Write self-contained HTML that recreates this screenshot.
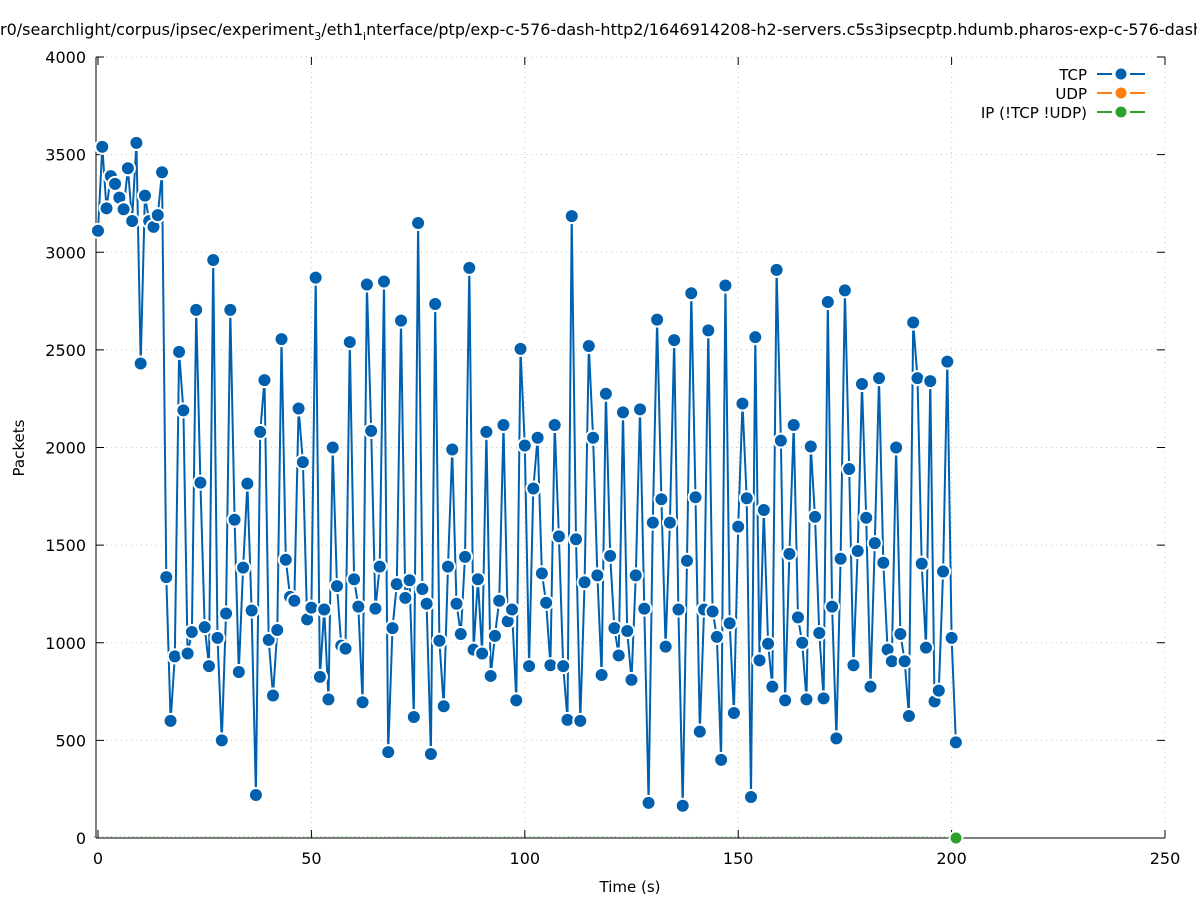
<!DOCTYPE html>
<html><head><meta charset="utf-8"><style>body{margin:0;background:#fff}svg{display:block;font-family:"DejaVu Sans","Liberation Sans",sans-serif}</style></head>
<body>
<svg id="s" width="1197" height="900" xmlns="http://www.w3.org/2000/svg">
<rect width="1197" height="900" fill="#fff"/>
<g id="grid" stroke="#c8c8c8" stroke-width="1" stroke-dasharray="1,4"></g>
<g id="axes"></g>
<text x="0" y="35" font-size="16" fill="#000">r0/searchlight/corpus/ipsec/experiment<tspan font-size="11" dy="5">3</tspan><tspan dy="-5">/eth1</tspan><tspan font-size="11" dy="5">i</tspan><tspan dy="-5">nterface/ptp/exp-c-576-dash-http2/1646914208-h2-servers.c5s3ipsecptp.hdumb.pharos-exp-c-576-dash-http2</tspan></text>
<text x="630" y="892" font-size="15" text-anchor="middle">Time (s)</text>
<text transform="translate(24,448) rotate(-90)" font-size="15" text-anchor="middle">Packets</text>
<g font-size="15" text-anchor="end">
<text x="1087" y="80">TCP</text><text x="1087" y="99">UDP</text><text x="1087" y="118">IP (!TCP  !UDP)</text>
</g>
<g stroke-width="2">
<path d="M1097 74h15M1130 74h15" stroke="#0060ad"/><circle cx="1121" cy="74" r="6.5" fill="#0060ad" stroke="#fff"/>
<path d="M1097 93h15M1130 93h15" stroke="#ff7f0e"/><circle cx="1121" cy="93" r="6.5" fill="#ff7f0e" stroke="#fff"/>
<path d="M1097 112h15M1130 112h15" stroke="#2ca02c"/><circle cx="1121" cy="112" r="6.5" fill="#2ca02c" stroke="#fff"/>
</g>
<g id="data"></g>
</svg>
<script>
var v=[3110,3540,3225,3390,3350,3280,3220,3430,3160,3560,2430,3290,3160,3130,3190,3410,1336,600,930,2490,2190,945,1055,2705,1820,1080,880,2960,1025,500,1150,2705,1630,850,1385,1815,1165,220,2080,2345,1015,730,1065,2555,1425,1235,1215,2200,1925,1120,1180,2870,825,1170,710,2000,1290,985,970,2540,1325,1185,695,2835,2085,1175,1390,2850,440,1075,1300,2650,1230,1320,620,3150,1275,1200,430,2735,1010,675,1390,1990,1200,1045,1440,2920,965,1325,945,2080,830,1035,1215,2115,1110,1170,705,2505,2010,880,1790,2050,1355,1205,885,2115,1545,880,605,3185,1530,600,1310,2520,2050,1345,835,2275,1445,1075,935,2180,1060,810,1345,2195,1175,180,1615,2655,1735,980,1615,2550,1170,165,1420,2790,1745,545,1170,2600,1160,1030,400,2830,1100,640,1595,2225,1740,210,2565,910,1680,995,775,2910,2035,705,1455,2115,1130,1000,710,2005,1645,1050,715,2745,1185,510,1430,2805,1890,885,1470,2325,1640,775,1510,2355,1410,965,905,2000,1045,905,625,2640,2355,1405,975,2340,700,755,1365,2440,1025,490];
var NS="http://www.w3.org/2000/svg";
function X(t){return 98+t*4.268}function Y(p){return 838-p*0.19525}
function el(n,a,p){var e=document.createElementNS(NS,n);for(var k in a)e.setAttribute(k,a[k]);if(p)p.appendChild(e);return e}
var g=document.getElementById('grid'),ax=document.getElementById('axes'),d=document.getElementById('data');
for(var i=1;i<=5;i++){var x=X(i*50);el('line',{x1:x,y1:57,x2:x,y2:838},g);}
for(var j=1;j<=8;j++){var y=Y(j*500);el('line',{x1:96,y1:y,x2:1165,y2:y},g);}
el('line',{x1:96,y1:57,x2:96,y2:838,stroke:'#000','stroke-width':1},ax);
el('line',{x1:96,y1:838,x2:1165,y2:838,stroke:'#000','stroke-width':1},ax);
for(var j=0;j<=8;j++){var y=Y(j*500);el('line',{x1:96,y1:y,x2:104,y2:y,stroke:'#000'},ax);el('line',{x1:1157,y1:y,x2:1165,y2:y,stroke:'#000'},ax);
var t=el('text',{x:86,y:y+6,'font-size':16,'text-anchor':'end'},ax);t.textContent=j*500;}
for(var i=0;i<=5;i++){var x=X(i*50);el('line',{x1:x,y1:838,x2:x,y2:830,stroke:'#000'},ax);el('line',{x1:x,y1:57,x2:x,y2:65,stroke:'#000'},ax);
var t=el('text',{x:x,y:864,'font-size':16,'text-anchor':'middle'},ax);t.textContent=i*50;}
el('line',{x1:94,y1:837,x2:956,y2:837,stroke:'#2ca02c','stroke-width':1.5,'stroke-dasharray':'1,3.27','opacity':0.6},d);
var pts=v.map(function(p,i){return X(i).toFixed(1)+','+Y(p).toFixed(1)}).join(' ');
el('polyline',{points:pts,fill:'none',stroke:'#0060ad','stroke-width':2},d);
v.forEach(function(p,i){el('circle',{cx:X(i),cy:Y(p),r:7,fill:'#0060ad',stroke:'#fff','stroke-width':2},d)});
el('circle',{cx:956,cy:838,r:6.5,fill:'#2ca02c',stroke:'#fff','stroke-width':2},d);
</script>
</body></html>
